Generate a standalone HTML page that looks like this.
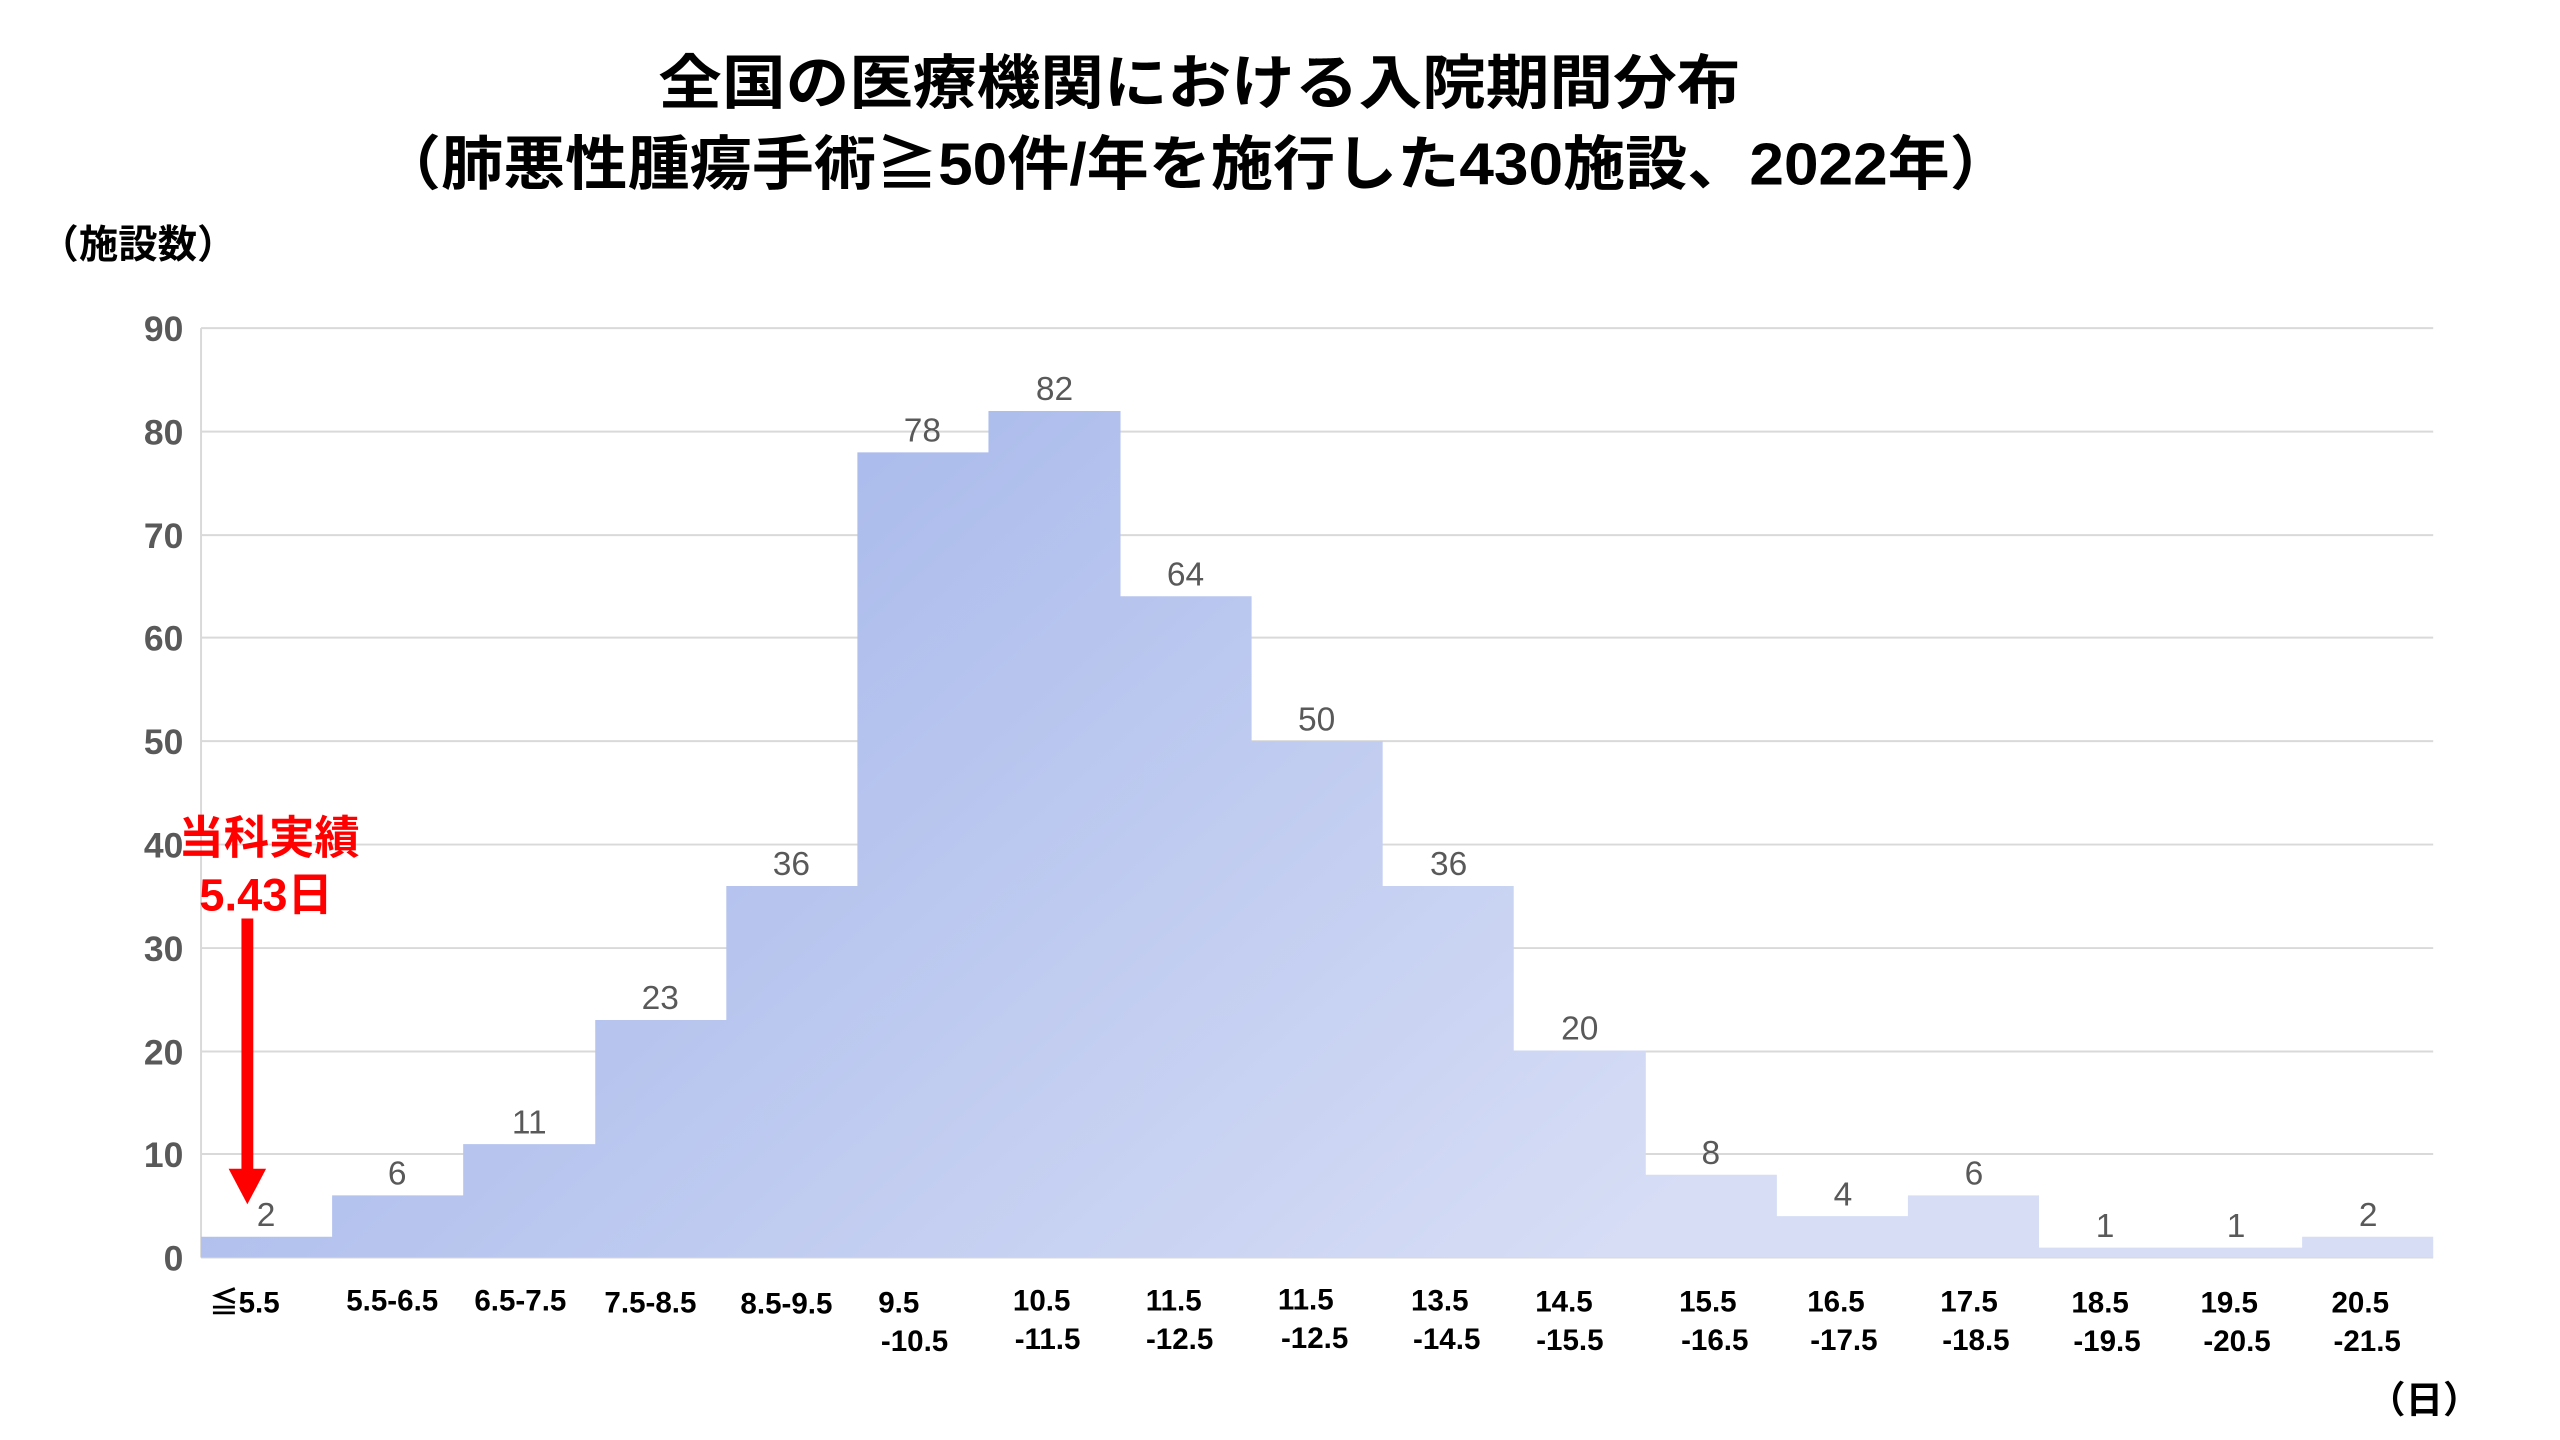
<!DOCTYPE html>
<html><head><meta charset="utf-8"><style>
html,body{margin:0;padding:0;background:#fff;}
svg{display:block;}
text{font-family:"Liberation Sans","Noto Sans CJK JP",sans-serif;}
</style></head><body>
<svg width="2560" height="1440" viewBox="0 0 2560 1440" xmlns="http://www.w3.org/2000/svg">
<defs>
<linearGradient id="g" gradientUnits="userSpaceOnUse" x1="800" y1="400" x2="1600" y2="1300">
<stop offset="0" stop-color="#a8b9eb"/><stop offset="1" stop-color="#d6ddf5"/>
</linearGradient>
</defs>
<g transform="scale(0.9855)">
<text x="1217" y="105" font-size="60" font-weight="bold" text-anchor="middle" textLength="1098" lengthAdjust="spacingAndGlyphs" fill="#000">全国の医療機関における入院期間分布</text>
<text x="1213" y="187" font-size="60" font-weight="bold" text-anchor="middle" textLength="1657" lengthAdjust="spacingAndGlyphs" fill="#000">（肺悪性腫瘍手術≧50件/年を施行した430施設、2022年）</text>
<text x="40" y="262" font-size="40" font-weight="bold" fill="#000">（施設数）</text>
<g stroke="#d9d9d9" stroke-width="2">
<line x1="204" y1="333" x2="2469" y2="333"/>
<line x1="204" y1="438" x2="2469" y2="438"/>
<line x1="204" y1="543" x2="2469" y2="543"/>
<line x1="204" y1="647" x2="2469" y2="647"/>
<line x1="204" y1="752" x2="2469" y2="752"/>
<line x1="204" y1="857" x2="2469" y2="857"/>
<line x1="204" y1="962" x2="2469" y2="962"/>
<line x1="204" y1="1067" x2="2469" y2="1067"/>
<line x1="204" y1="1171" x2="2469" y2="1171"/>
<line x1="204" y1="1276" x2="2469" y2="1276"/>
<line x1="204" y1="333" x2="204" y2="1276"/>
</g>
<g font-size="36" font-weight="bold" fill="#595959" text-anchor="end">
<text x="186" y="1289">0</text><text x="186" y="1184">10</text><text x="186" y="1080">20</text>
<text x="186" y="975">30</text><text x="186" y="870">40</text><text x="186" y="765">50</text>
<text x="186" y="660">60</text><text x="186" y="556">70</text><text x="186" y="451">80</text>
<text x="186" y="346">90</text>
</g>
<path fill="url(#g)" d="M204,1276 V1255 H337 V1213 H470 V1161 H604 V1035 H737 V899 H870 V459 H1003 V417 H1137 V605 H1270 V752 H1403 V899 H1536 V1066 H1670 V1192 H1803 V1234 H1936 V1213 H2069 V1266 H2203 V1266 H2336 V1255 H2469 V1276 Z"/>
<g font-size="34" fill="#595959" text-anchor="middle" font-family="'Liberation Sans Narrow','Liberation Sans',sans-serif">
<text x="270" y="1244">2</text><text x="403" y="1202">6</text><text x="537" y="1150">11</text>
<text x="670" y="1024">23</text><text x="803" y="888">36</text><text x="936" y="448">78</text>
<text x="1070" y="406">82</text><text x="1203" y="594">64</text><text x="1336" y="741">50</text>
<text x="1470" y="888">36</text><text x="1603" y="1055">20</text><text x="1736" y="1181">8</text>
<text x="1870" y="1223">4</text><text x="2003" y="1202">6</text><text x="2136" y="1255">1</text>
<text x="2269" y="1255">1</text><text x="2403" y="1244">2</text>
</g>
<g font-size="30" font-weight="bold" fill="#000" text-anchor="middle">
<text x="248" y="1332">≦5.5</text>
<text x="398" y="1330">5.5-6.5</text>
<text x="528" y="1330">6.5-7.5</text>
<text x="660" y="1332">7.5-8.5</text>
<text x="798" y="1333">8.5-9.5</text>
<text x="912" y="1332">9.5</text><text x="928" y="1371">-10.5</text>
<text x="1057" y="1330">10.5</text><text x="1063" y="1369">-11.5</text>
<text x="1191" y="1330">11.5</text><text x="1197" y="1369">-12.5</text>
<text x="1325" y="1329">11.5</text><text x="1334" y="1368">-12.5</text>
<text x="1461" y="1330">13.5</text><text x="1468" y="1369">-14.5</text>
<text x="1587" y="1331">14.5</text><text x="1593" y="1370">-15.5</text>
<text x="1733" y="1331">15.5</text><text x="1740" y="1370">-16.5</text>
<text x="1863" y="1331">16.5</text><text x="1871" y="1370">-17.5</text>
<text x="1998" y="1331">17.5</text><text x="2005" y="1370">-18.5</text>
<text x="2131" y="1332">18.5</text><text x="2138" y="1371">-19.5</text>
<text x="2262" y="1332">19.5</text><text x="2270" y="1371">-20.5</text>
<text x="2395" y="1332">20.5</text><text x="2402" y="1371">-21.5</text>
</g>
<text x="2460" y="1434" font-size="38" font-weight="bold" text-anchor="middle" fill="#000">（日）</text>
<g font-size="46" font-weight="bold" fill="#ff0000" text-anchor="middle">
<text x="273" y="866">当科実績</text>
<text x="270" y="924">5.43日</text>
</g>
<rect x="245" y="932" width="12" height="255" fill="#ff0000"/>
<polygon points="232,1186 270,1186 251,1222" fill="#ff0000"/>
</g>
</svg>
</body></html>
